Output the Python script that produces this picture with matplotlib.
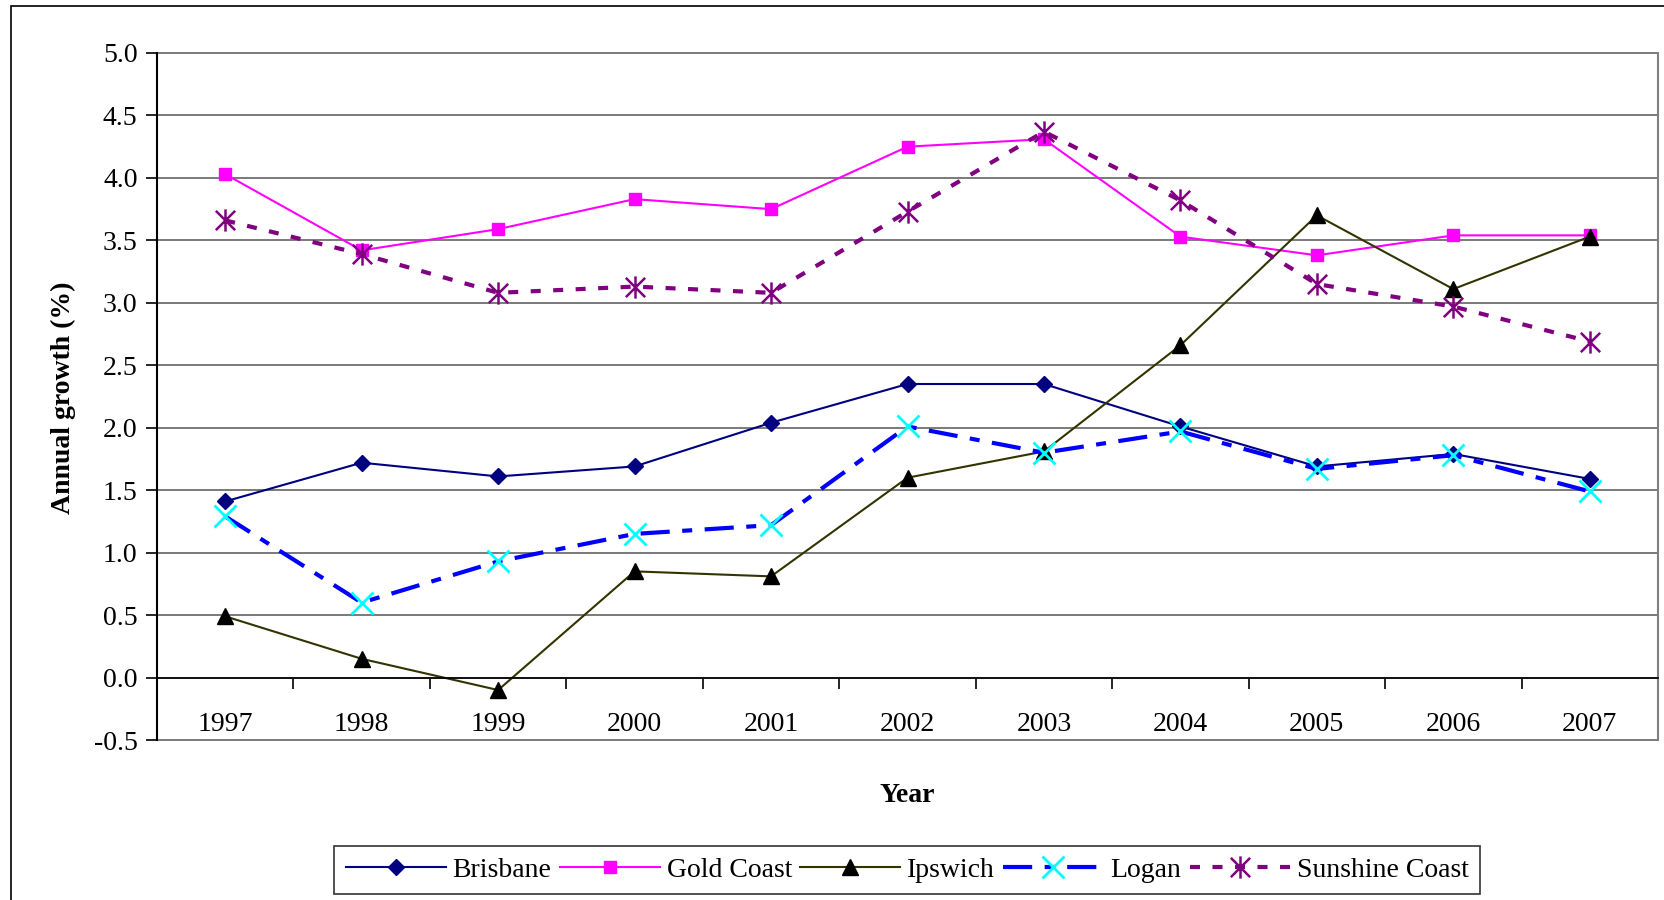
import numpy as np
import matplotlib
matplotlib.use("Agg")
import matplotlib.pyplot as plt
from matplotlib.path import Path
from matplotlib.patches import Rectangle

plt.rcParams['font.family'] = ['Liberation Serif', 'DejaVu Serif']
plt.rcParams['axes.unicode_minus'] = False

years = ["1997", "1998", "1999", "2000", "2001", "2002", "2003", "2004", "2005", "2006", "2007"]
brisbane = [1.41, 1.72, 1.61, 1.69, 2.04, 2.35, 2.35, 2.01, 1.69, 1.79, 1.59]
gold_coast = [4.03, 3.42, 3.59, 3.83, 3.75, 4.25, 4.31, 3.53, 3.38, 3.54, 3.54]
ipswich = [0.49, 0.15, -0.10, 0.85, 0.81, 1.60, 1.81, 2.66, 3.70, 3.11, 3.53]
logan = [1.29, 0.60, 0.93, 1.15, 1.22, 2.01, 1.80, 1.97, 1.67, 1.78, 1.49]
sunshine_coast = [3.66, 3.39, 3.08, 3.13, 3.08, 3.73, 4.37, 3.82, 3.15, 2.97, 2.69]
y_ticks = [-0.5, 0.0, 0.5, 1.0, 1.5, 2.0, 2.5, 3.0, 3.5, 4.0, 4.5, 5.0]

# Excel style "star" marker: an X with a vertical bar through it
star = Path([(-1, -1), (1, 1), (-1, 1), (1, -1), (0, -1.15), (0, 1.15)],
            [Path.MOVETO, Path.LINETO, Path.MOVETO, Path.LINETO, Path.MOVETO, Path.LINETO])

fs = 20
fig = plt.figure(figsize=(16.64, 9), dpi=100)
ax = fig.add_axes([157/1664, 1 - 740/900, 1501/1664, 687/900])

x = np.arange(len(years))
ax.plot(x, brisbane, color="#000080", lw=1.5, marker="D", ms=8,
        mfc="#000080", mec="#000080", label="Brisbane")
ax.plot(x, gold_coast, color="#FF00FF", lw=1.5, marker="s", ms=9,
        mfc="#FF00FF", mec="#FF00FF", label="Gold Coast")
ax.plot(x, ipswich, color="#333300", lw=1.5, marker="^", ms=11,
        mfc="black", mec="black", label="Ipswich")
ax.plot(x, logan, color="#0000FF", lw=3, dashes=(7, 3, 2.4, 3), marker="x", ms=16,
        mew=2, mec="#00FFFF", label="Logan")
ax.plot(x, sunshine_coast, color="#800080", lw=3, dashes=(2.4, 3.0), marker=star, ms=16,
        mew=1.8, mfc="none", mec="#800080", label="Sunshine Coast")

ax.set_xlim(-0.5, len(years) - 0.5)
ax.set_ylim(-0.5, 5.0)
ax.set_yticks(y_ticks)
ax.set_yticklabels(["{:.1f}".format(v) for v in y_ticks])
ax.set_xticks(x)
ax.set_xticklabels(years)
ax.set_xticks(x[:-1] + 0.5, minor=True)
ax.tick_params(axis="x", which="major", length=0, pad=25, labelsize=fs)
ax.tick_params(axis="x", which="minor", length=8, width=1.2, direction="out", color="black")
ax.tick_params(axis="y", length=8, width=1.2, direction="out", pad=6, labelsize=fs)

ax.grid(True, axis="y", color="#707070", lw=1.3)
for gl in ax.get_ygridlines():
    gl.set_clip_on(False)
ax.set_axisbelow(True)

ax.spines["bottom"].set_position(("data", 0))
ax.spines["bottom"].set_linewidth(1.2)
ax.spines["left"].set_linewidth(1.5)
ax.spines["top"].set_visible(False)
ax.spines["right"].set_color("#808080")
ax.spines["right"].set_linewidth(1.5)

fig.text(63/1664, 1 - 398/900, "Annual growth (%)", rotation=90, fontsize=fs,
         fontweight="bold", ha="center", va="center")
fig.text(907/1664, 1 - 795/900, "Year", fontsize=fs, fontweight="bold",
         ha="center", va="center")

leg = fig.legend(loc="center", bbox_to_anchor=(907/1664, 1 - 870/900), ncol=5,
                 fontsize=fs, frameon=True, fancybox=False, edgecolor="black",
                 handlelength=3.6, handletextpad=0.25, columnspacing=0.3,
                 borderpad=0.4, numpoints=1)
leg.get_frame().set_linewidth(1.2)

# outer chart frame
fig.patches.append(Rectangle((11/1664, -0.05), 1.2, 1 - 6/900 + 0.05,
                             transform=fig.transFigure, fill=False,
                             edgecolor="black", lw=1.2))

plt.savefig("out.png", dpi=100)
